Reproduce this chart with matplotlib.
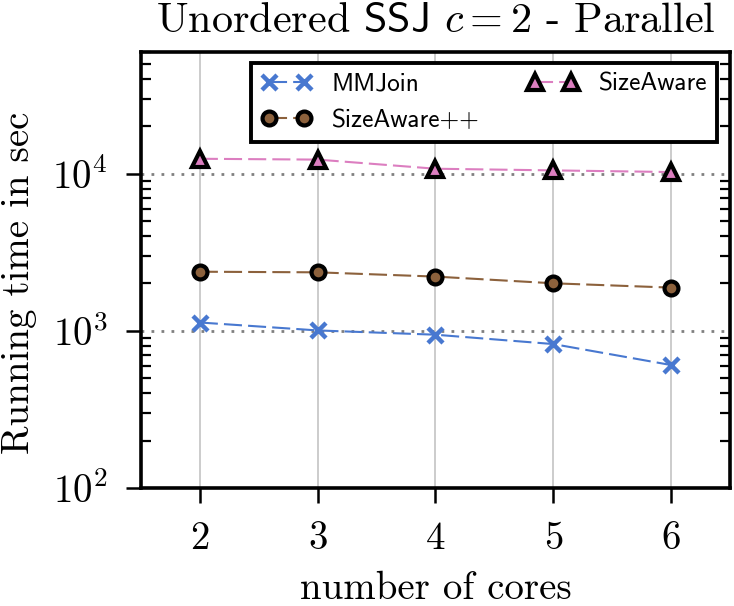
import matplotlib
matplotlib.use("Agg")
import matplotlib.pyplot as plt
from matplotlib.ticker import LogLocator, NullFormatter
from matplotlib.font_manager import FontProperties

plt.rcParams['font.family'] = 'serif'
plt.rcParams['font.serif'] = ['cmr10']
plt.rcParams['mathtext.fontset'] = 'cm'
plt.rcParams['axes.formatter.use_mathtext'] = True
plt.rcParams['axes.unicode_minus'] = False
plt.rcParams['lines.scale_dashes'] = False

# data
cores = [2, 3, 4, 5, 6]
mmjoin = [1129, 1005, 944, 823, 605]
sizeaware_pp = [2377, 2356, 2213, 2006, 1883]
sizeaware = [12450, 12300, 10760, 10500, 10250]

blue = "#4878d0"
brown = "#8c613c"
pink = "#dc7ec0"

fig = plt.figure(figsize=(3.67, 3.03), dpi=200)
ax = fig.add_axes([0.192, 0.195, 0.8026, 0.72])

dash = (0, (6.5, 2.2))
l1, = ax.plot(cores, mmjoin, color=blue, lw=0.75, linestyle=dash, marker='x',
              ms=5.4, mew=1.6, mec=blue, label='MMJoin', zorder=3)
l2, = ax.plot(cores, sizeaware_pp, color=brown, lw=0.75, linestyle=dash, marker='o',
              ms=5.0, mew=1.5, mfc=brown, mec='black', label='SizeAware++', zorder=3)
l3, = ax.plot(cores, sizeaware, color=pink, lw=0.75, linestyle=dash, marker='^',
              ms=5.6, mew=1.5, mfc=pink, mec='black', label='SizeAware', zorder=3)

ax.set_yscale('log')
ax.set_xlim(1.5, 6.5)
ax.set_ylim(100, 6e4)
ax.set_xticks(cores)
ax.yaxis.set_major_locator(LogLocator(base=10, numticks=10))
ax.yaxis.set_minor_locator(LogLocator(base=10, subs=range(2, 10), numticks=10))
ax.yaxis.set_minor_formatter(NullFormatter())

ax.grid(True, axis='x', color='#cccccc', lw=0.7, linestyle='-', zorder=0)
ax.grid(True, axis='y', which='major', color='#808080', lw=1.0,
        linestyle=(0, (1.0, 2.6)), zorder=0)
ax.set_axisbelow(True)

for s in ax.spines.values():
    s.set_linewidth(1.3)
    s.set_zorder(4)

ax.tick_params(axis='both', which='major', direction='out', length=5.4, width=0.9,
               labelsize=14, pad=6.5)
ax.tick_params(axis='x', which='minor', bottom=False, top=False)
ax.tick_params(axis='y', which='minor', direction='in', length=3.6, width=0.8,
               left=True, right=True)

ax.set_xlabel('number of cores', fontsize=14)
ax.set_ylabel('Running time in sec', fontsize=14)
ax.xaxis.set_label_coords(0.5, -0.19)
ax.yaxis.set_label_coords(-0.176, 0.47)
ax.set_title(r'Unordered $\mathsf{SSJ}$ $c = 2$ - Parallel', fontsize=15.2, pad=7)

leg = ax.legend(handles=[l1, l2, l3], ncol=2, loc='upper right',
                bbox_to_anchor=(0.978, 0.974), borderaxespad=0,
                prop=FontProperties(family='cmss10', size=9.1),
                numpoints=2, handlelength=2.0, handletextpad=0.8, columnspacing=1.9,
                fancybox=False, framealpha=1, edgecolor='black')
leg.get_frame().set_linewidth(1.4)

fig.savefig('out.png', dpi=200)
